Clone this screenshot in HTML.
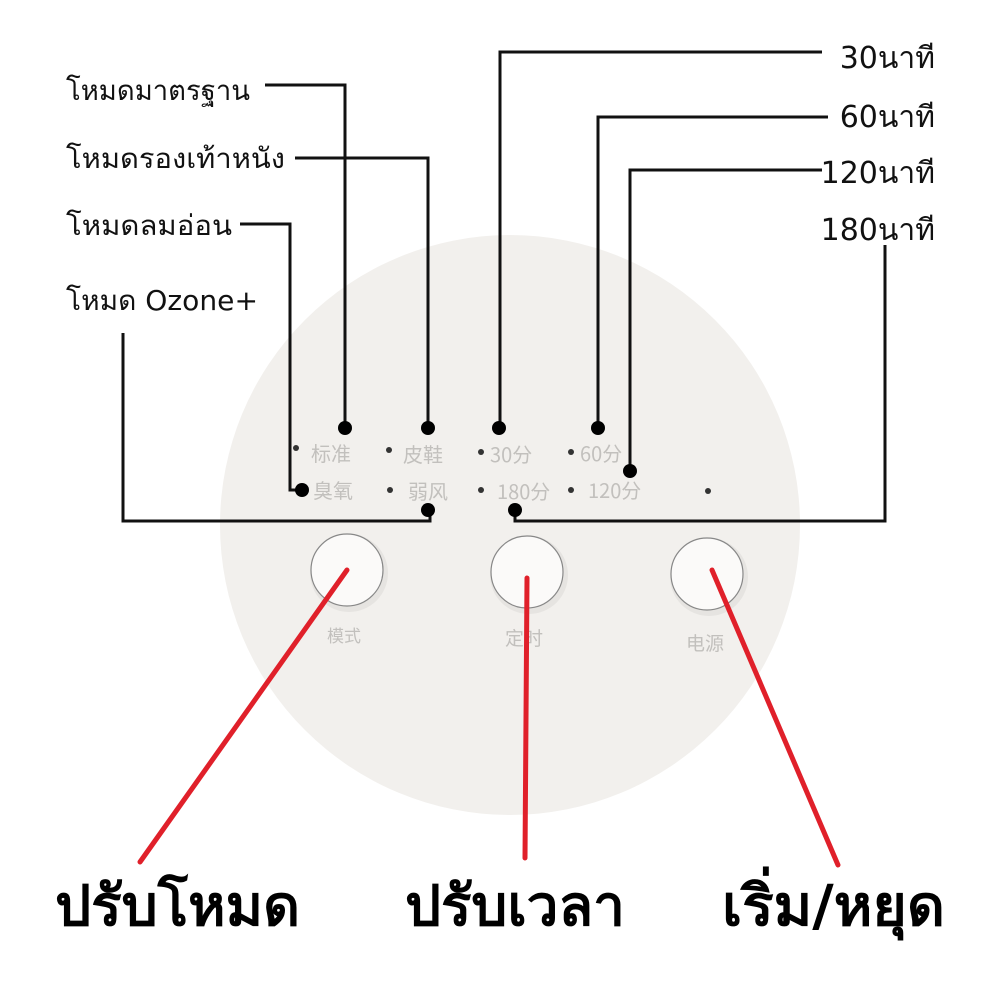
<!DOCTYPE html>
<html><head><meta charset="utf-8"><style>html,body{margin:0;padding:0;background:#fff}svg{display:block}</style></head>
<body>
<svg width="1000" height="1000" viewBox="0 0 1000 1000" xmlns="http://www.w3.org/2000/svg" font-family="'DejaVu Sans','Liberation Sans',sans-serif">
<rect width="1000" height="1000" fill="#fff"/>
<circle cx="510" cy="525" r="290" fill="#f2f0ed"/>
<!-- buttons -->
<g fill="#e6e4e1">
<circle cx="349" cy="573" r="39"/>
<circle cx="529" cy="575" r="39"/>
<circle cx="709" cy="577" r="39"/>
</g>
<g fill="#fbfaf9" stroke="#888" stroke-width="1.2">
<circle cx="347" cy="570" r="36"/>
<circle cx="527" cy="572" r="36"/>
<circle cx="707" cy="574" r="36"/>
</g>
<g fill="#c2c0bd" font-family="'Noto Sans CJK SC',sans-serif">
<text x="327" y="642" font-size="17">模式</text>
<text x="505" y="645" font-size="19">定时</text>
<text x="686" y="650" font-size="19">电源</text>
<g font-size="20">
<text x="311" y="461">标准</text>
<text x="403" y="462">皮鞋</text>
<text x="490" y="462">30分</text>
<text x="580" y="461">60分</text>
<text x="313" y="498">臭氧</text>
<text x="408" y="499">弱风</text>
<text x="497" y="499">180分</text>
<text x="588" y="498">120分</text>
</g>
</g>
<g fill="#333">
<circle cx="296" cy="448" r="3"/><circle cx="389" cy="450" r="3"/><circle cx="481" cy="452" r="3"/><circle cx="571" cy="452" r="3"/>
<circle cx="390" cy="490" r="3"/><circle cx="481" cy="490" r="3"/><circle cx="571" cy="490" r="3"/><circle cx="708" cy="491" r="3"/>
</g>
<!-- connectors -->
<g fill="none" stroke="#111" stroke-width="3">
<polyline points="265,85 345,85 345,427"/>
<polyline points="295,158 428,158 428,427"/>
<polyline points="240,224 290,224 290,490 300,490"/>
<polyline points="123,333 123,521 430,521 430,510"/>
<polyline points="822,52 500,52 500,427"/>
<polyline points="828,117 598,117 598,427"/>
<polyline points="822,170 630,170 630,470"/>
<polyline points="885,245 885,521 515,521 515,510"/>
</g>
<g fill="#000">
<circle cx="345" cy="428" r="7"/><circle cx="428" cy="428" r="7"/><circle cx="499" cy="428" r="7"/><circle cx="598" cy="428" r="7"/>
<circle cx="630" cy="471" r="7"/><circle cx="302" cy="490" r="7"/><circle cx="428" cy="510" r="7"/><circle cx="515" cy="510" r="7"/>
</g>
<!-- red lines -->
<g stroke="#e0202a" stroke-width="5" stroke-linecap="round">
<line x1="347" y1="570" x2="140" y2="862"/>
<line x1="527" y1="578" x2="525" y2="858"/>
<line x1="712" y1="570" x2="838" y2="865"/>
</g>
<!-- labels -->
<g fill="#111" font-size="28">
<text x="66" y="100" textLength="184" lengthAdjust="spacingAndGlyphs">โหมดมาตรฐาน</text>
<text x="66" y="168" textLength="219" lengthAdjust="spacingAndGlyphs">โหมดรองเท้าหนัง</text>
<text x="66" y="235" textLength="166" lengthAdjust="spacingAndGlyphs">โหมดลมอ่อน</text>
<text x="66" y="310" textLength="192" lengthAdjust="spacingAndGlyphs">โหมด Ozone+</text>
</g>
<g fill="#111" font-size="30">
<text x="935" y="68" text-anchor="end">30นาที</text>
<text x="935" y="127" text-anchor="end">60นาที</text>
<text x="935" y="183" text-anchor="end">120นาที</text>
<text x="935" y="240" text-anchor="end">180นาที</text>
</g>
<g fill="#000" font-size="56" font-weight="bold">
<text x="55" y="925" textLength="245" lengthAdjust="spacingAndGlyphs">ปรับโหมด</text>
<text x="405" y="925" textLength="220" lengthAdjust="spacingAndGlyphs">ปรับเวลา</text>
<text x="722" y="925" textLength="223" lengthAdjust="spacingAndGlyphs">เริ่ม/หยุด</text>
</g>
</svg>
</body></html>
